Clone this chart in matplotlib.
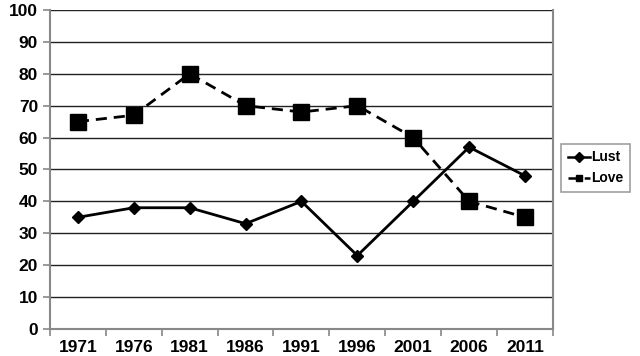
import matplotlib
matplotlib.use("Agg")
import matplotlib.pyplot as plt
import numpy as np

# data
years = ["1971", "1976", "1981", "1986", "1991", "1996", "2001", "2006", "2011"]
lust = [35, 38, 38, 33, 40, 23, 40, 57, 48]
love = [65, 67, 80, 70, 68, 70, 60, 40, 35]

plt.rcParams["font.family"] = ["Liberation Sans", "DejaVu Sans"]

fig = plt.figure(figsize=(6.4, 3.56), dpi=100)
ax = fig.add_axes([0.078, 0.076, 0.786, 0.896])

x = np.arange(len(years))
ax.plot(x, lust, color="black", lw=2, marker="D", ms=6, label="Lust")
ax.plot(x, love, color="black", lw=2, ls=(0, (4, 2.5)), marker="s", ms=11, label="Love")

ax.set_xlim(-0.5, len(years) - 0.5)
ax.set_ylim(0, 100)
ax.set_yticks(range(0, 101, 10))
ax.yaxis.grid(True, color="#222222", lw=1)
ax.set_axisbelow(True)

# category labels centered, ticks on boundaries
ax.set_xticks(x)
ax.set_xticklabels(years, fontsize=12.5, fontweight="bold")
ax.set_xticks(np.arange(-0.5, len(years)), minor=True)
ax.tick_params(axis="x", which="major", length=0, pad=8)
ax.tick_params(axis="x", which="minor", length=5, color="#888888", width=1.2)
ax.tick_params(axis="y", labelsize=12.5, length=5, color="#888888", width=1.2)
for lab in ax.get_yticklabels():
    lab.set_fontweight("bold")

for side in ["left", "bottom", "right"]:
    ax.spines[side].set_color("#888888")
    ax.spines[side].set_linewidth(1.5)
ax.spines["top"].set_visible(False)

leg = fig.legend(loc="upper left", bbox_to_anchor=(0.877, 0.595),
                 prop={"weight": "bold", "size": 10}, handlelength=1.6,
                 fancybox=False, edgecolor="#888888", borderpad=0.45, labelspacing=0.5,
                 handletextpad=0.1, borderaxespad=0)
leg.get_frame().set_linewidth(1.2)
for h in leg.legend_handles:
    h.set_markersize(5)
    h.set_linewidth(1.8)

fig.savefig("out.png", dpi=100)
